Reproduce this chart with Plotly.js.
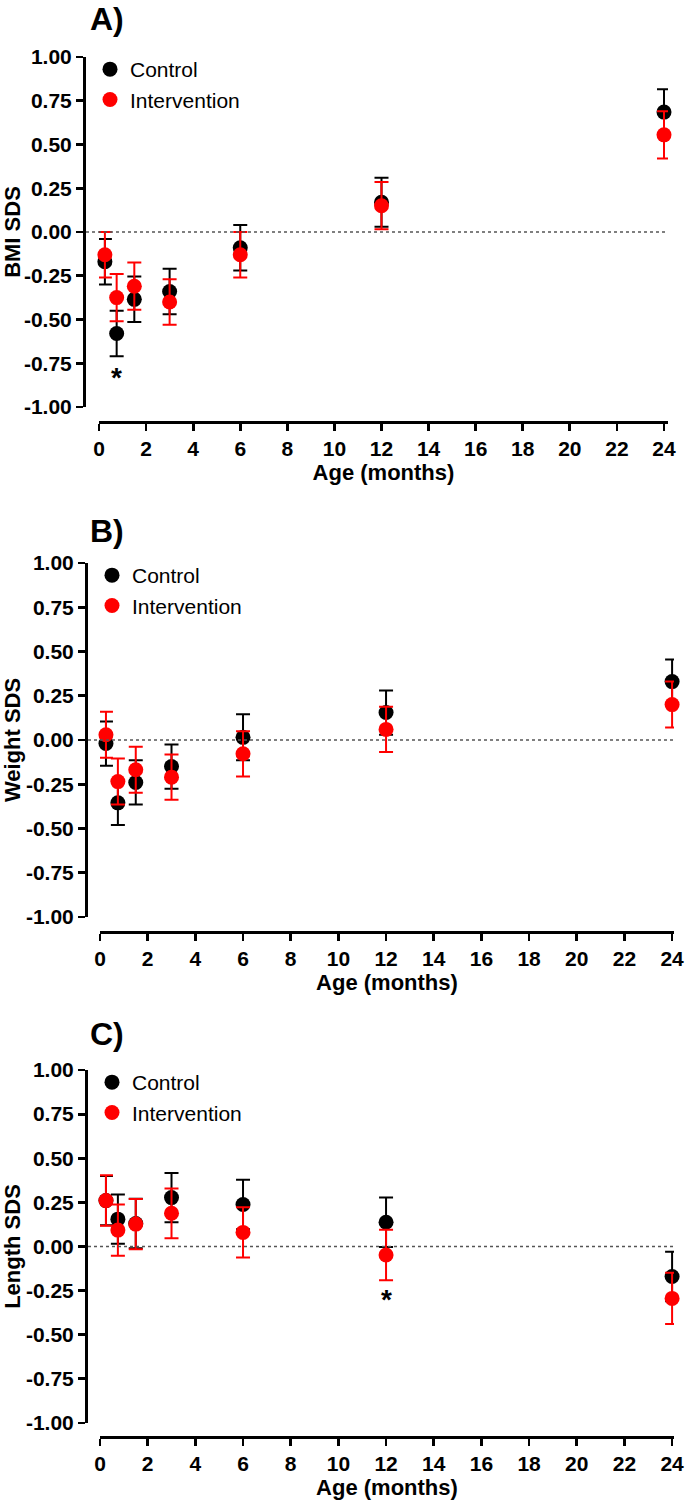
<!DOCTYPE html>
<html>
<head>
<meta charset="utf-8">
<script src="https://cdn.plot.ly/plotly-3.0.1.min.js"></script>
<style>
  body { margin: 0; background: #fff; }
  #plot { width: 685px; height: 1505px; }
</style>
</head>
<body>
<div id="plot"></div>
<script>
// Age of measurement (months)
var ages = [0.25, 0.75, 1.5, 3, 6, 12, 24];

// A) BMI SDS, mean and SE
var bmiControl = [-0.17, -0.58, -0.385, -0.34, -0.09, 0.17, 0.685];
var bmiControlErr = [0.13, 0.13, 0.13, 0.13, 0.13, 0.14, 0.13];
var bmiInterv = [-0.13, -0.375, -0.31, -0.40, -0.13, 0.15, 0.555];
var bmiIntervErr = [0.13, 0.135, 0.135, 0.13, 0.13, 0.135, 0.135];

// B) Weight SDS
var weightControl = [-0.02, -0.355, -0.24, -0.15, 0.015, 0.155, 0.33];
var weightControlErr = [0.125, 0.125, 0.125, 0.125, 0.13, 0.125, 0.125];
var weightInterv = [0.03, -0.235, -0.168, -0.21, -0.078, 0.06, 0.2];
var weightIntervErr = [0.13, 0.13, 0.13, 0.128, 0.128, 0.128, 0.13];

// C) Length SDS
var lengthControl = [0.26, 0.155, 0.13, 0.277, 0.238, 0.137, -0.17];
var lengthControlErr = [0.14, 0.14, 0.14, 0.14, 0.14, 0.14, 0.14];
var lengthInterv = [0.26, 0.093, 0.127, 0.188, 0.08, -0.048, -0.294];
var lengthIntervErr = [0.143, 0.145, 0.142, 0.141, 0.142, 0.143, 0.145];

var yTicks = [1, 0.75, 0.5, 0.25, 0, -0.25, -0.5, -0.75, -1];
var yTickText = ["1.00", "0.75", "0.50", "0.25", "0.00", "-0.25", "-0.50", "-0.75", "-1.00"];
var xTicks = [0, 2, 4, 6, 8, 10, 12, 14, 16, 18, 20, 22, 24];

var W = 685, H = 1505;
var font = "Arial, 'Liberation Sans', sans-serif";

// one series as scatter with symmetric error bars
function series(y, err, name, color, xa, ya, legend) {
  return {
    x: ages, y: y, name: name, type: "scatter", mode: "markers",
    xaxis: xa, yaxis: ya, legend: legend, cliponaxis: false,
    marker: {color: color, size: 15},
    error_y: {type: "data", array: err, visible: true, color: color, thickness: 2, width: 7}
  };
}

var data = [
  series(bmiControl, bmiControlErr, "Control", "#000000", "x", "y", "legend"),
  series(bmiInterv, bmiIntervErr, "Intervention", "#ff0000", "x", "y", "legend"),
  series(weightControl, weightControlErr, "Control", "#000000", "x2", "y2", "legend2"),
  series(weightInterv, weightIntervErr, "Intervention", "#ff0000", "x2", "y2", "legend2"),
  series(lengthControl, lengthControlErr, "Control", "#000000", "x3", "y3", "legend3"),
  series(lengthInterv, lengthIntervErr, "Intervention", "#ff0000", "x3", "y3", "legend3")
];

// panel geometry in pixels (from top of page)
var panels = [
  {yTop: 57, yBot: 407, yLineX: 84, xL: 99, xR: 668, xMax: 24.17, xLineY: 422, title: "BMI SDS", label: "A)", labelY: 19},
  {yTop: 563, yBot: 917, yLineX: 86, xL: 100, xR: 674, xMax: 24.08, xLineY: 932, title: "Weight SDS", label: "B)", labelY: 531},
  {yTop: 1070, yBot: 1423, yLineX: 86, xL: 100, xR: 674, xMax: 24.08, xLineY: 1437, title: "Length SDS", label: "C)", labelY: 1034}
];

var layout = {
  width: W, height: H,
  margin: {l: 0, r: 0, t: 0, b: 0},
  paper_bgcolor: "#fff", plot_bgcolor: "rgba(0,0,0,0)",
  font: {family: font, color: "#000"},
  showlegend: true,
  annotations: [], shapes: []
};

panels.forEach(function(p, i) {
  var n = i === 0 ? "" : String(i + 1);
  layout["xaxis" + n] = {
    domain: [p.xL / W, p.xR / W], range: [0, p.xMax],
    anchor: "free", position: (H - p.xLineY) / H,
    showline: true, linecolor: "#000", linewidth: 2.8,
    ticks: "outside", ticklen: 7, tickwidth: 2.8, tickcolor: "#000",
    tickvals: xTicks, showgrid: false, zeroline: false,
    tickfont: {size: 21, weight: "bold"},
    title: {text: "Age (months)", font: {size: 22, weight: "bold"}, standoff: 3}
  };
  layout["yaxis" + n] = {
    domain: [(H - p.yBot) / H, (H - p.yTop) / H], range: [-1, 1],
    anchor: "free", position: p.yLineX / W,
    showline: true, linecolor: "#000", linewidth: 2.8,
    ticks: "outside", ticklen: 7, tickwidth: 2.8, tickcolor: "#000",
    tickvals: yTicks, ticktext: yTickText, showgrid: false, zeroline: false,
    tickfont: {size: 21, weight: "bold"},
    title: {text: p.title, font: {size: 22, weight: "bold"}, standoff: 6}
  };
  layout["legend" + n] = {
    x: (p.yLineX + 6) / W, xanchor: "left",
    y: (H - p.yTop + 8) / H, yanchor: "top",
    bgcolor: "rgba(0,0,0,0)", font: {size: 21}, itemsizing: "trace"
  };
  // dotted zero line
  layout.shapes.push({
    type: "line", xref: "paper", yref: "y" + n,
    x0: (p.yLineX + 2) / W, x1: p.xR / W, y0: 0, y1: 0,
    line: {color: "#555", width: 1.5, dash: "dot"}
  });
  // panel letter
  layout.annotations.push({
    xref: "paper", yref: "paper", x: 88 / W, y: (H - p.labelY) / H,
    xanchor: "left", yanchor: "middle", showarrow: false,
    text: p.label, font: {size: 32, weight: "bold"}
  });
});

// significance markers
layout.annotations.push({xref: "x", yref: "y", x: 0.75, y: -0.83, text: "*", showarrow: false,
  font: {size: 28, weight: "bold"}});
layout.annotations.push({xref: "x3", yref: "y3", x: 12, y: -0.30, text: "*", showarrow: false,
  font: {size: 28, weight: "bold"}});

Plotly.newPlot("plot", data, layout, {staticPlot: true});
</script>
</body>
</html>
